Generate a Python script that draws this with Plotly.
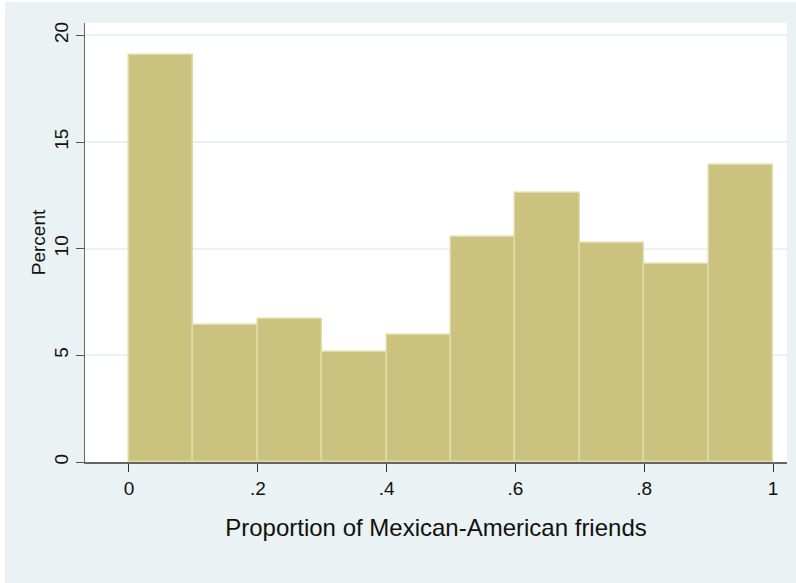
import plotly.graph_objects as go

# Histogram bins (proportion of Mexican-American friends), width 0.1
bin_left = [0.0, 0.1, 0.2, 0.3, 0.4, 0.5, 0.6, 0.7, 0.8, 0.9]
bin_width = 0.1
percent = [19.06, 6.44, 6.69, 5.16, 5.94, 10.55, 12.62, 10.29, 9.27, 13.90]

x_tickvals = [0, 0.2, 0.4, 0.6, 0.8, 1.0]
x_ticktext = ["0", ".2", ".4", ".6", ".8", "1"]
y_tickvals = [0, 5, 10, 15, 20]
y_ticktext = ["0", "5", "10", "15", "20"]

x_title = "Proportion of Mexican-American friends"
y_title = "Percent"

FILL = "#cac27e"
EDGE = "#dfdba6"
BG = "#eaf2f3"
FONT = "Liberation Sans, Arial, sans-serif"

fig = go.Figure()
fig.add_trace(go.Bar(
    x=bin_left,
    y=percent,
    width=[bin_width] * len(bin_left),
    offset=0,
    marker=dict(color=FILL, line=dict(color=EDGE, width=1.5)),
    hoverinfo="x+y",
))

fig.update_layout(
    width=796, height=583,
    margin=dict(l=85, r=9, t=23, b=121, pad=0),
    paper_bgcolor=BG,
    plot_bgcolor="white",
    showlegend=False,
    bargap=0,
    font=dict(family=FONT, color="#111111", size=19),
    xaxis=dict(
        range=[-0.0683, 1.0217],
        tickvals=x_tickvals, ticktext=x_ticktext,
        ticks="outside", ticklen=8, tickwidth=1, tickcolor="#333333",
        showgrid=False, zeroline=False,
        showline=True, linecolor="#666666", linewidth=1.5,
        tickfont=dict(size=19, family=FONT, color="#111111"),
        title=dict(text=x_title, font=dict(size=24, family=FONT, color="#111111"), standoff=22),
    ),
    yaxis=dict(
        range=[0, 20.58],
        tickvals=y_tickvals, ticktext=y_ticktext,
        tickangle=-90,
        ticks="outside", ticklen=8, tickwidth=1, tickcolor="#555555",
        showgrid=True, gridcolor=BG, gridwidth=1.5,
        zeroline=False,
        showline=True, linecolor="#666666", linewidth=1.2,
        tickfont=dict(size=19, family=FONT, color="#111111"),
        title=dict(text=y_title, font=dict(size=19, family=FONT, color="#111111"), standoff=0),
    ),
    shapes=[
        dict(type="rect", xref="paper", yref="paper", x0=-0.2, x1=-0.114, y0=-0.4, y1=1.2,
             fillcolor="white", line=dict(width=0), layer="above"),
        dict(type="rect", xref="paper", yref="paper", x0=-0.2, x1=1.1, y0=1.0478, y1=1.2,
             fillcolor="white", line=dict(width=0), layer="above"),
    ],
)

fig.write_html("out.html")
